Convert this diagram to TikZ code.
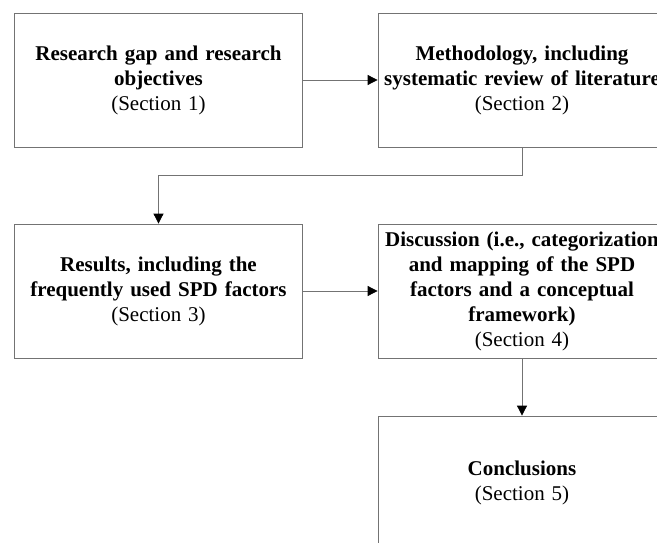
\documentclass[tikz,border=0pt]{standalone}
\usepackage{fontspec}
\setmainfont{Liberation Serif}
\usetikzlibrary{arrows.meta}

\tikzset{
  stage/.style={draw=black!55, line width=0.8pt, rectangle, align=center,
    text width=280pt, inner xsep=4pt, minimum height=134pt,
    font=\fontsize{21}{25}\selectfont},
  flow/.style={draw=black!55, line width=0.8pt,
    -{Triangle[length=10pt,width=10pt,color=black]}}
}

\begin{document}
\begin{tikzpicture}[x=1pt,y=-1pt]
  \useasboundingbox (0,0) rectangle (657,543);
  \clip (0,0) rectangle (657,543);

  \node[stage] (gap) at (158.5,80) {\textbf{Research gap and research}\\ \textbf{objectives}\\ (Section 1)};
  \node[stage] (meth) at (522,80) {\textbf{Methodology, including}\\ \textbf{systematic review of literature}\\ (Section 2)};
  \node[stage] (res) at (158.5,291) {\textbf{Results, including the}\\ \textbf{frequently used SPD factors}\\ (Section 3)};
  \node[stage] (disc) at (522,291) {\textbf{Discussion (i.e., categorization}\\ \textbf{and mapping of the SPD}\\ \textbf{factors and a conceptual}\\ \textbf{framework)}\\ (Section 4)};
  \node[stage] (concl) at (522,483) {\textbf{Conclusions}\\ (Section 5)};

  \draw[flow] (gap) -- (meth);
  \draw[flow] (meth.south) -- ++(0,28) -| (res.north);
  \draw[flow] (res) -- (disc);
  \draw[flow] (disc) -- (concl);
\end{tikzpicture}
\end{document}
